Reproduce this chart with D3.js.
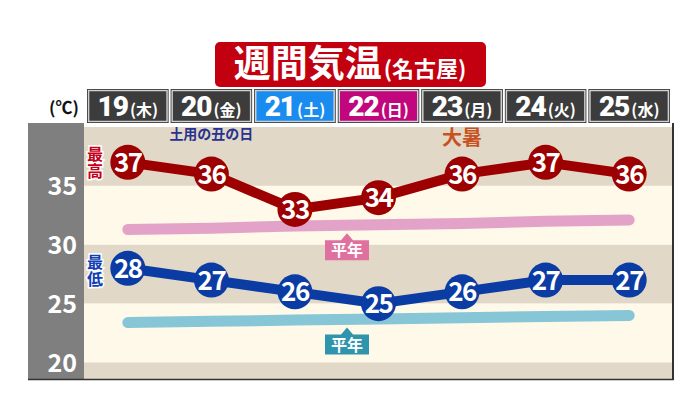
<!DOCTYPE html>
<html>
<head>
<meta charset="utf-8">
<script src="https://cdn.jsdelivr.net/npm/d3@7"></script>
<style>
  body { margin: 0; background: #fff; }
  svg { display: block; }
  text { font-family: "Noto Sans CJK JP", "Noto Sans", sans-serif; font-weight: 700; }
</style>
</head>
<body>
<div class="canva"></div>
<script>
// data
const days = ["19", "20", "21", "22", "23", "24", "25"];
const weekdays = ["木", "金", "土", "日", "月", "火", "水"];
const highTemps = [37, 36, 33, 34, 36, 37, 36];
const lowTemps = [28, 27, 26, 25, 26, 27, 27];
const normalHigh = [31.3, 31.4, 31.6, 31.7, 31.8, 32.0, 32.1];
const normalLow = [23.4, 23.5, 23.6, 23.7, 23.8, 23.9, 24.0];
const yTicks = [35, 30, 25, 20];
const bands = [[40, 35], [35, 30], [30, 25], [25, 20], [20, 18.6]];

const W = 700, H = 393;
const svg = d3.select(".canva").append("svg").attr("width", W).attr("height", H);

const x = d3.scaleBand().domain(days).range([85, 672]).padding(0.025);
const cx = d => x(d) + x.bandwidth() / 2;
const y = d3.scaleLinear().domain([18.6, 40]).range([379, 127]);

// title
svg.append("rect")
  .attr("x", 215).attr("y", 42).attr("width", 271).attr("height", 45)
  .attr("rx", 5)
  .attr("fill", "#c3000f");
const title = svg.append("text")
  .attr("x", 350).attr("y", 77)
  .attr("text-anchor", "middle")
  .attr("fill", "#fff");
title.append("tspan").text("週間気温").attr("font-size", 37);
title.append("tspan").text("(名古屋)").attr("font-size", 22).attr("dx", 2);

// unit
svg.append("text")
  .text("(℃)")
  .attr("x", 64).attr("y", 114)
  .attr("text-anchor", "middle")
  .attr("font-size", 17)
  .attr("fill", "#111");

// background bands
svg.append("g").selectAll("rect")
  .data(bands)
  .join("rect")
  .attr("x", 84).attr("width", 589)
  .attr("y", d => y(d[0]))
  .attr("height", d => y(d[1]) - y(d[0]))
  .attr("fill", (d, i) => i % 2 === 0 ? "#e2d8c8" : "#fef9e9");

// gray axis panel
svg.append("rect")
  .attr("x", 28).attr("y", 123).attr("width", 56).attr("height", 256)
  .attr("fill", "#7f7f7f");

svg.append("g").selectAll("text")
  .data(yTicks)
  .join("text")
  .text(d => d)
  .attr("x", 77)
  .attr("y", d => y(d) + 9)
  .attr("text-anchor", "end")
  .attr("font-family", "Roboto, sans-serif")
  .attr("font-weight", 900)
  .attr("font-size", 25)
  .attr("fill", "#fff");

// plot borders
svg.append("line")
  .attr("x1", 673).attr("x2", 673).attr("y1", 123).attr("y2", 380)
  .attr("stroke", "#333").attr("stroke-width", 2);
svg.append("line")
  .attr("x1", 28).attr("x2", 674).attr("y1", 379.5).attr("y2", 379.5)
  .attr("stroke", "#333").attr("stroke-width", 1.5);

// header
const dayFill = (d, i) => d === "21" ? "#1a8cf0" : d === "22" ? "#c2077e" : "#3c3c3c";
const head = svg.append("g").selectAll("g")
  .data(days)
  .join("g");
head.append("rect")
  .attr("x", d => x(d)).attr("y", 89)
  .attr("width", x.bandwidth()).attr("height", 34)
  .attr("fill", "#222");
head.append("rect")
  .attr("x", d => x(d) + 1.5).attr("y", 90.5)
  .attr("width", x.bandwidth() - 3).attr("height", 31)
  .attr("fill", dayFill)
  .attr("stroke", "#d0d0d0").attr("stroke-width", 1.5);
const headText = head.append("text")
  .attr("x", d => cx(d)).attr("y", 116)
  .attr("text-anchor", "middle")
  .attr("fill", "#fff");
headText.append("tspan")
  .text(d => d)
  .attr("font-family", "Roboto, sans-serif")
  .attr("font-weight", 900)
  .attr("font-size", 28)
  .attr("letter-spacing", -1);
headText.append("tspan")
  .text((d, i) => "(" + weekdays[i] + ")")
  .attr("font-size", 16)
  .attr("dx", 2);

// normal lines
const line = (arr) => d3.line().x((d, i) => cx(days[i])).y(d => y(d))(arr);
svg.append("path")
  .attr("d", line(normalHigh))
  .attr("fill", "none")
  .attr("stroke", "#e3a3c9").attr("stroke-width", 11).attr("stroke-linecap", "round");
svg.append("path")
  .attr("d", line(normalLow))
  .attr("fill", "none")
  .attr("stroke", "#86c6d6").attr("stroke-width", 11).attr("stroke-linecap", "round");

// 平年 tags
function normalTag(arr, color) {
  const lx = 347;
  const ly = y(d3.mean(arr.slice(2, 4))) + 8;
  const g = svg.append("g").attr("transform", `translate(${lx},${ly})`);
  g.append("path")
    .attr("d", "M-22,7 L-6,7 L0,0 L6,7 L22,7 L22,27 L-22,27 Z")
    .attr("fill", color);
  g.append("text")
    .text("平年")
    .attr("y", 23)
    .attr("text-anchor", "middle")
    .attr("font-size", 16)
    .attr("fill", "#fff");
}
normalTag(normalHigh, "#e0709d");
normalTag(normalLow, "#2f95ad");

// temperature series
function series(arr, color) {
  svg.append("path")
    .attr("d", line(arr))
    .attr("fill", "none")
    .attr("stroke", color).attr("stroke-width", 10)
    .attr("stroke-linejoin", "round");
  const g = svg.append("g").selectAll("g")
    .data(arr)
    .join("g")
    .attr("transform", (d, i) => `translate(${cx(days[i])},${y(d)})`);
  g.append("circle").attr("r", 17.5).attr("fill", color);
  g.append("text")
    .text(d => d)
    .attr("y", 9.5)
    .attr("text-anchor", "middle")
    .attr("font-family", "Roboto, sans-serif")
    .attr("font-weight", 900)
    .attr("font-size", 26)
    .attr("letter-spacing", -1.5)
    .attr("fill", "#fff");
}
series(highTemps, "#9c0000");
series(lowTemps, "#0a3ca4");

// side labels (vertical text)
function sideLabel(label, y0, color) {
  svg.append("text")
    .text(label)
    .attr("x", 95)
    .attr("y", y0)
    .attr("writing-mode", "tb")
    .attr("letter-spacing", 1)
    .attr("font-size", 16)
    .attr("fill", color)
    .attr("stroke", "#fff").attr("stroke-width", 3)
    .attr("paint-order", "stroke");
}
sideLabel("最高", 146, "#c4001a");
sideLabel("最低", 254, "#1040b4");

// annotations
svg.append("text")
  .text("土用の丑の日")
  .attr("x", cx("20")).attr("y", 139)
  .attr("text-anchor", "middle")
  .attr("font-size", 14)
  .attr("fill", "#27338f");
svg.append("text")
  .text("大暑")
  .attr("x", cx("23")).attr("y", 145)
  .attr("text-anchor", "middle")
  .attr("font-size", 20)
  .attr("fill", "#c8521f");
</script>
</body>
</html>
